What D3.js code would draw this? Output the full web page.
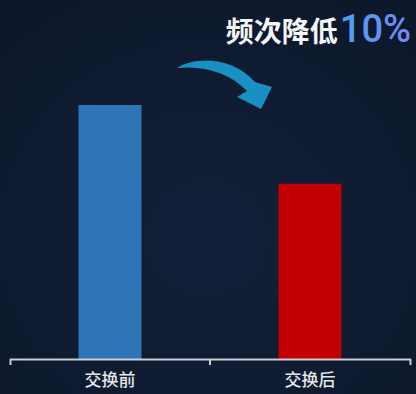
<!DOCTYPE html>
<html>
<head>
  <meta charset="utf-8" />
  <title>频次对比</title>
  <script src="https://d3js.org/d3.v7.min.js"></script>
  <style>
    html, body {
      margin: 0;
      padding: 0;
      background: #0f1a2e;
    }
    #chart {
      display: block;
    }
  </style>
</head>
<body>
  <svg id="chart" width="416" height="394"></svg>
  <script>
    // chart data
    var categories = ["交换前", "交换后"];
    var values = [100, 69];
    var barColors = ["#2e75b6", "#c00000"];
    var titleText = "频次降低";
    var titleValue = "10%";

    var W = 416, H = 394;
    var svg = d3.select("#chart");

    // background
    var defs = svg.append("defs");
    var bg = defs.append("radialGradient").attr("id", "bg")
      .attr("cx", "50%").attr("cy", "60%").attr("r", "75%");
    bg.append("stop").attr("offset", "0%").attr("stop-color", "#12203a");
    bg.append("stop").attr("offset", "100%").attr("stop-color", "#0c1729");
    svg.append("rect").attr("width", W).attr("height", H).attr("fill", "url(#bg)");

    var pct = defs.append("linearGradient").attr("id", "pct")
      .attr("gradientUnits", "userSpaceOnUse")
      .attr("x1", 342).attr("x2", 410).attr("y1", 0).attr("y2", 0);
    pct.append("stop").attr("offset", "0%").attr("stop-color", "#45a3f2");
    pct.append("stop").attr("offset", "100%").attr("stop-color", "#7b86f0");

    // scales
    var x = d3.scaleBand()
      .domain(categories)
      .range([10, 410])
      .padding(0);

    var y = d3.scaleLinear()
      .domain([0, 100])
      .range([359, 105]);

    var barW = x.bandwidth() * 0.315;

    // bars
    svg.selectAll(".bar")
      .data(values)
      .enter().append("rect")
      .attr("class", "bar")
      .attr("x", function (d, i) { return x(categories[i]) + x.bandwidth() / 2 - barW / 2; })
      .attr("y", function (d) { return y(d); })
      .attr("width", barW)
      .attr("height", function (d) { return y(0) - y(d); })
      .attr("fill", function (d, i) { return barColors[i]; });

    // x axis (ticks sit on band boundaries)
    var xAxis = d3.axisBottom(x).tickSize(0).tickSizeOuter(6).tickPadding(15);
    var gx = svg.append("g")
      .attr("transform", "translate(0," + y(0) + ")")
      .call(xAxis);
    gx.select(".domain")
      .attr("stroke", "#c9cdd5")
      .attr("stroke-width", 2)
      .attr("stroke-linejoin", "round")
      .attr("fill", "none");
    gx.selectAll(".tick text")
      .attr("fill", "#e4e6ea")
      .style("font-family", "'Noto Sans CJK SC', sans-serif")
      .style("font-size", "17px")
      .style("font-weight", "500");
    gx.append("line")
      .attr("x1", x(categories[1])).attr("x2", x(categories[1]))
      .attr("y1", 0).attr("y2", 6)
      .attr("stroke", "#c9cdd5").attr("stroke-width", 2);

    // curved arrow
    svg.append("path")
      .attr("d", "M177,68 C196,56 233,57 255,82 L272,87 L261,109 L237,97 L247,91 C230,73 204,65 177,68 Z")
      .attr("fill", "#1890c4");

    // title
    var title = svg.append("text")
      .attr("x", 411)
      .attr("y", 42)
      .attr("text-anchor", "end")
      .style("font-family", "'Noto Sans CJK SC', sans-serif")
      .style("font-weight", "bold");
    title.append("tspan")
      .attr("fill", "#f4f5f7")
      .style("font-size", "28px")
      .text(titleText);
    title.append("tspan")
      .attr("fill", "url(#pct)")
      .attr("dx", 2)
      .style("font-size", "38px")
      .style("font-family", "Roboto, sans-serif")
      .style("font-weight", "500")
      .text(titleValue);
  </script>
</body>
</html>
